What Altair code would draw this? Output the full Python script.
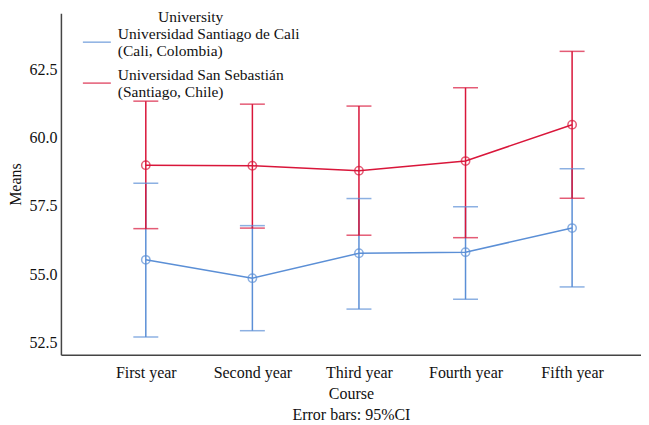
import altair as alt
import pandas as pd

courses = ["First year", "Second year", "Third year", "Fourth year", "Fifth year"]
universities = [
    "Universidad Santiago de Cali|(Cali, Colombia)",
    "Universidad San Sebastián|(Santiago, Chile)",
]
cali_mean = [55.53, 54.86, 55.77, 55.81, 56.69]
cali_lo = [52.71, 52.94, 53.73, 54.09, 54.54]
cali_hi = [58.33, 56.78, 57.77, 57.47, 58.86]
chile_mean = [58.99, 58.97, 58.79, 59.14, 60.47]
chile_lo = [56.67, 56.69, 56.43, 56.34, 57.78]
chile_hi = [61.33, 61.22, 61.15, 61.82, 63.15]
colors = ["#5b8fd6", "#d9163a"]

rows = []
for uni, m, lo, hi in [
    (universities[0], cali_mean, cali_lo, cali_hi),
    (universities[1], chile_mean, chile_lo, chile_hi),
]:
    for c, a, b, d in zip(courses, m, lo, hi):
        rows.append({"Course": c, "University": uni, "mean": a, "lo": b, "hi": d})
df = pd.DataFrame(rows)

FONT = "Liberation Serif"
FS = 16
LFS = 15.5

x = alt.X("Course:N", sort=courses,
          scale=alt.Scale(type="point", padding=0.7215, align=0.552),
          axis=alt.Axis(title=["Course", "Error bars: 95%CI"], labelAngle=0,
                        ticks=False, labelPadding=10, titlePadding=5,
                        titleLineHeight=21,
                        domainColor="#444", domainWidth=1.5))
yscale = alt.Scale(domain=[52.06, 64.54], nice=False, zero=False)
color = alt.Color("University:N", sort=universities,
                  scale=alt.Scale(domain=universities, range=colors),
                  legend=alt.Legend(title="University", orient="none",
                                    legendX=21, legendY=-3,
                                    symbolType="M-1,0.6H1", symbolSize=784,
                                    symbolStrokeWidth=1.5,
                                    labelExpr="split(datum.label, '|')",
                                    labelLimit=400, rowPadding=0,
                                    labelOffset=6,
                                    titlePadding=-7,
                                    titleAnchor="middle", titleAlign="center",
                                    titleFontWeight="normal"))

base = alt.Chart(df)

line = base.mark_line(strokeWidth=1.5).encode(
    x=x,
    y=alt.Y("mean:Q", scale=yscale,
            axis=alt.Axis(title="Means", values=[52.5, 55.0, 57.5, 60.0, 62.5],
                          format=".1f", ticks=False, grid=False, labelPadding=4,
                          titlePadding=5, domainColor="#444", domainWidth=1.5)),
    color=color,
)
pts = base.mark_point(shape="circle", filled=False, size=70, strokeWidth=1.5).encode(
    x=x, y=alt.Y("mean:Q", scale=yscale), color=color)
rule = base.mark_rule(strokeWidth=1.5).encode(
    x=x, y=alt.Y("lo:Q", scale=yscale), y2="hi:Q", color=color)
cap_lo = base.mark_tick(size=25, thickness=1.5).encode(
    x=x, y=alt.Y("lo:Q", scale=yscale), color=color)
cap_hi = base.mark_tick(size=25, thickness=1.5).encode(
    x=x, y=alt.Y("hi:Q", scale=yscale), color=color)

chart = alt.layer(rule, cap_lo, cap_hi, line, pts).properties(
    width=581, height=342,
    padding={"left": 0, "top": 2, "right": 0, "bottom": 0},
).configure_view(stroke=None).configure_axis(
    labelFont=FONT, titleFont=FONT, labelFontSize=FS, titleFontSize=FS,
    labelColor="#111", titleColor="#111", titleFontWeight="normal", grid=False,
).configure_legend(
    labelFont=FONT, titleFont=FONT, labelFontSize=LFS, titleFontSize=LFS,
    labelColor="#111", titleColor="#111",
)

chart.save("out.html", embed_options={"renderer": "svg", "actions": False})
